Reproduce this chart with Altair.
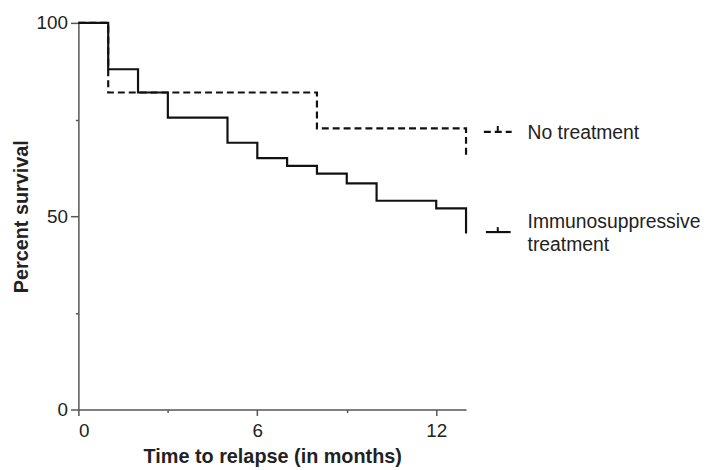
import altair as alt
import pandas as pd

# --- data ---
groups = ["No treatment", "Immunosuppressive treatment"]
no_t_time = [0, 1, 8, 13]
no_t_surv = [100, 82, 72.7, 65.2]
imm_time = [0, 1, 2, 3, 5, 6, 7, 8, 9, 10, 12, 13]
imm_surv = [100, 88, 82, 75.5, 69, 65, 63, 61, 58.5, 54, 52, 45.5]

x_ticks = [0, 3, 6, 9, 12]
y_ticks = [0, 25, 50, 75, 100]

rows = []
for t, s in zip(no_t_time, no_t_surv):
    rows.append({"time": t, "surv": s, "group": groups[0], "ord": 0})
for t, s in zip(imm_time, imm_surv):
    rows.append({"time": t, "surv": s, "group": groups[1], "ord": 1})
df = pd.DataFrame(rows)

FONT = "Liberation Sans"
TXT = "#222222"
AX = "#555555"
W, H = 391, 390

x = alt.X("time:Q", scale=alt.Scale(domain=[0, 13], nice=False, zero=False),
          axis=alt.Axis(values=x_ticks, title="Time to relapse (in months)",
                        labelExpr="datum.value % 6 == 0 ? datum.label : ''",
                        tickSize={"condition": {"test": "datum.value % 6 != 0", "value": 3}, "value": 6},
                        labelPadding=6, titleY=37, titleBaseline="top", titleAnchor="middle"))
y = alt.Y("surv:Q", scale=alt.Scale(domain=[0, 100], nice=False),
          axis=alt.Axis(values=y_ticks, title="Percent survival",
                        labelExpr="datum.value % 50 == 0 ? datum.label : ''",
                        tickSize={"condition": {"test": "datum.value % 50 != 0", "value": 3}, "value": 8},
                        labelPadding=3, titleX=-51, titleBaseline="alphabetic"))

lines = alt.Chart(df).mark_line(interpolate="step-after", color="#111111", strokeWidth=2.2).encode(
    x=x, y=y,
    strokeDash=alt.StrokeDash("group:N", scale=alt.Scale(domain=groups, range=[[7, 4], [1, 0]]), legend=None),
    order=alt.Order("ord:Q"),
    detail="group:N",
)

one = pd.DataFrame({"k": [0]})
leg_dash = alt.Chart(one).mark_rule(color="#111111", strokeWidth=2.2, strokeDash=[7, 4]).encode(
    x=alt.value(409), x2=alt.value(437), y=alt.value(110))
leg_dash_tick = alt.Chart(one).mark_rule(color="#111111", strokeWidth=2).encode(
    x=alt.value(423), y=alt.value(104), y2=alt.value(110))
leg_solid = alt.Chart(one).mark_rule(color="#111111", strokeWidth=2.2).encode(
    x=alt.value(411), x2=alt.value(436), y=alt.value(211))
leg_solid_tick = alt.Chart(one).mark_rule(color="#111111", strokeWidth=2).encode(
    x=alt.value(423), y=alt.value(206), y2=alt.value(211))

lab1 = pd.DataFrame({"t": [groups[0]]})
lab2 = pd.DataFrame({"t": ["Immunosuppressive"]})
lab3 = pd.DataFrame({"t": ["treatment"]})
tkw = dict(font=FONT, fontSize=19.5, color=TXT, align="left", baseline="alphabetic")
leg_t1 = alt.Chart(lab1).mark_text(**tkw).encode(text="t:N", x=alt.value(453), y=alt.value(117))
leg_t2 = alt.Chart(lab2).mark_text(**tkw).encode(text="t:N", x=alt.value(453), y=alt.value(207))
leg_t3 = alt.Chart(lab3).mark_text(**tkw).encode(text="t:N", x=alt.value(453), y=alt.value(230))

chart = alt.layer(lines, leg_dash, leg_dash_tick, leg_solid, leg_solid_tick, leg_t1, leg_t2, leg_t3).properties(
    width=W, height=H,
    autosize=alt.AutoSizeParams(type="none"),
    padding={"left": 71, "top": 13, "right": 238, "bottom": 59},
).configure_view(stroke=None).configure_axis(
    domainColor=AX, domainWidth=1.5, tickColor=AX, tickWidth=1.5,
    labelFont=FONT, labelFontSize=19, labelColor=TXT,
    titleFont=FONT, titleFontSize=20, titleFontWeight="bold", titleColor=TXT,
    grid=False,
)

chart.save("out.html", embed_options={"renderer": "svg", "actions": False})
